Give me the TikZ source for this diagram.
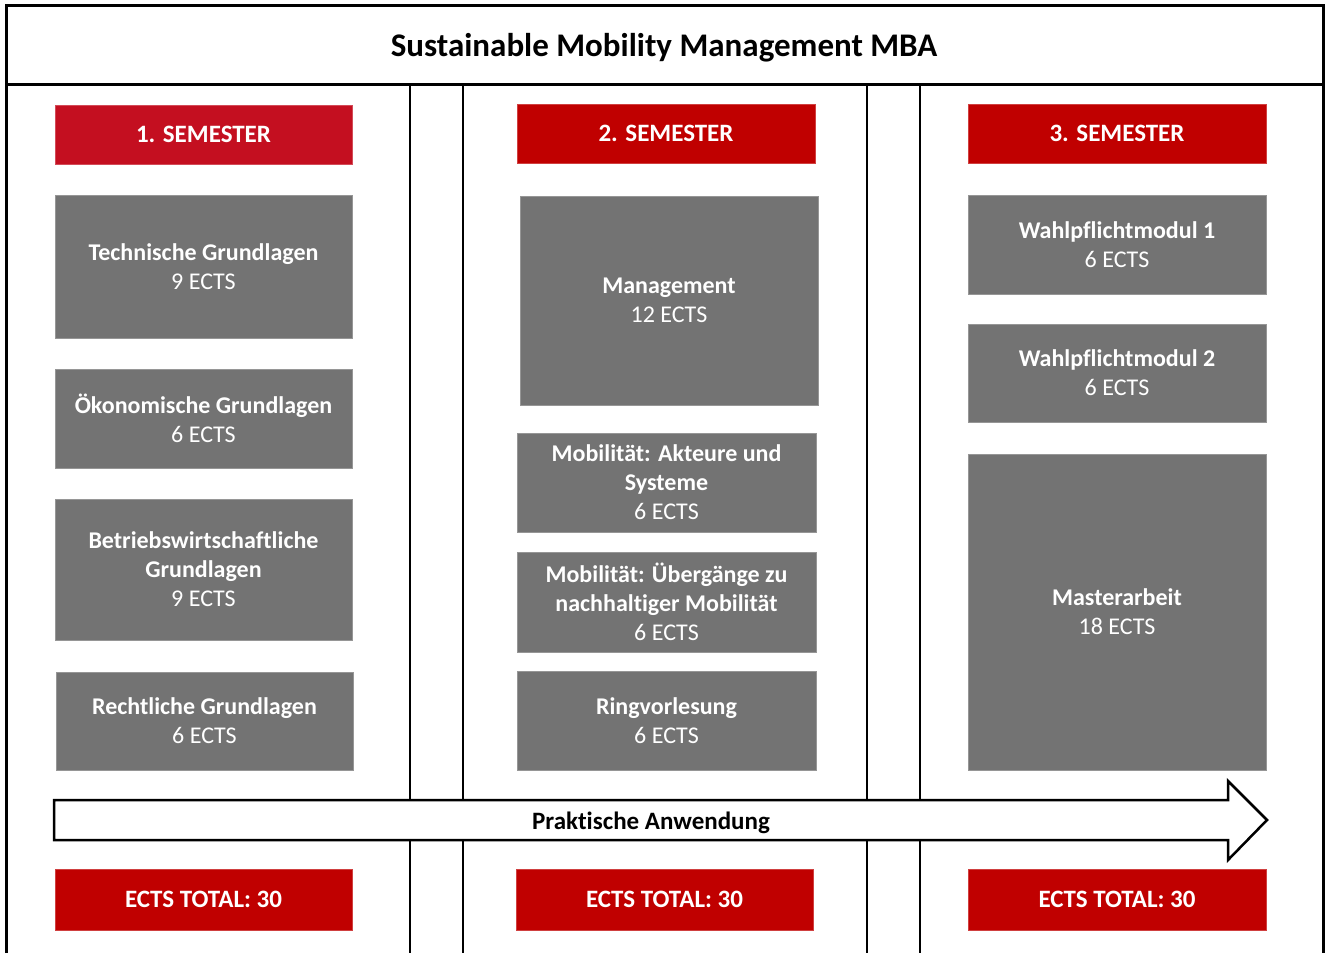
\documentclass[tikz,border=0pt]{standalone}
\usepackage{fontspec}
\setmainfont{Carlito}[Ligatures=NoCommon]
\definecolor{semred}{HTML}{C00000}
\definecolor{semredA}{HTML}{C40F20}
\definecolor{modgray}{HTML}{737373}
\newcommand\mkbox[7]{\node[#6, minimum width={#4pt-#2pt}, minimum height={#5pt-#3pt}] (#1) at ({(#2+#4)/2},{(#3+#5)/2}) {#7};}
\begin{document}
\begin{tikzpicture}[x=1pt,y=-1pt,
  modbox/.style={fill=modgray, draw=modgray!75!white, line width=0.8pt, text=white, align=center, inner sep=0pt, font=\fontsize{24}{29}\selectfont},
  redbox/.style={fill=semred, draw=semred!75!white, line width=0.8pt, text=white, align=center, inner sep=0pt, font=\fontsize{25}{29}\selectfont\bfseries},
  frame/.style={line width=3pt, draw=black},
  colline/.style={line width=2pt, draw=black},
  bigarrow/.style={line width=2.5pt, draw=black, fill=white, line join=miter}]
\useasboundingbox (0,0) rectangle (1327,953);
% frame
\coordinate (ftl) at (6,5); \coordinate (ftr) at (1323,5);
\coordinate (fbl) at (6,953); \coordinate (fbr) at (1323,953);
\coordinate (tl) at (6,84); \coordinate (tr) at (1323,84);
\draw[frame] (fbl) -- (ftl) -- (ftr) -- (fbr);
\draw[frame] (tl) -- (tr);
\node[font=\fontsize{33}{38}\selectfont\bfseries] (title) at (664,48) {Sustainable Mobility Management MBA};
% column lines
\foreach \xx [count=\i] in {410,463,867,920}{
  \coordinate (c\i t) at (\xx,84); \coordinate (c\i b) at (\xx,953);
  \draw[colline] (c\i t) -- (c\i b);
}
% semester 1
\mkbox{s1}{55}{105}{352}{164}{redbox,fill=semredA,draw=semredA!75!white}{1. SEMESTER}
\mkbox{m11}{55}{195}{352}{338}{modbox}{\textbf{Technische Grundlagen}\\9 ECTS}
\mkbox{m12}{55}{369}{352}{468}{modbox}{\textbf{Ökonomische Grundlagen}\\6 ECTS}
\mkbox{m13}{55}{499}{352}{640}{modbox}{\textbf{Betriebswirtschaftliche}\\\textbf{Grundlagen}\\9 ECTS}
\mkbox{m14}{56}{672}{353}{770}{modbox}{\textbf{Rechtliche Grundlagen}\\6 ECTS}
\mkbox{t1}{55}{869}{352}{930}{redbox}{ECTS TOTAL: 30}
% semester 2
\mkbox{s2}{517}{104}{815}{163}{redbox}{2. SEMESTER}
\mkbox{m21}{520}{196}{818}{405}{modbox}{\textbf{Management}\\12 ECTS}
\mkbox{m22}{517}{433}{816}{532}{modbox}{\textbf{Mobilität: Akteure und}\\\textbf{Systeme}\\6 ECTS}
\mkbox{m23}{517}{552}{816}{652}{modbox}{\textbf{Mobilität: Übergänge zu}\\\textbf{nachhaltiger Mobilität}\\6 ECTS}
\mkbox{m24}{517}{671}{816}{770}{modbox}{\textbf{Ringvorlesung}\\6 ECTS}
\mkbox{t2}{516}{869}{813}{930}{redbox}{ECTS TOTAL: 30}
% semester 3
\mkbox{s3}{968}{104}{1266}{163}{redbox}{3. SEMESTER}
\mkbox{m31}{968}{195}{1266}{294}{modbox}{\textbf{Wahlpflichtmodul 1}\\6 ECTS}
\mkbox{m32}{968}{324}{1266}{422}{modbox}{\textbf{Wahlpflichtmodul 2}\\6 ECTS}
\mkbox{m33}{968}{454}{1266}{770}{modbox}{\textbf{Masterarbeit}\\18 ECTS}
\mkbox{t3}{968}{869}{1266}{930}{redbox}{ECTS TOTAL: 30}
% arrow
\draw[bigarrow] (54,800) -- (1228,800) -- (1228,781) -- (1267,820) -- (1228,860) -- (1228,840) -- (54,840) -- cycle;
\node[font=\fontsize{25}{29}\selectfont\bfseries] (arrowlabel) at (651,823) {Praktische Anwendung};
\end{tikzpicture}
\end{document}
